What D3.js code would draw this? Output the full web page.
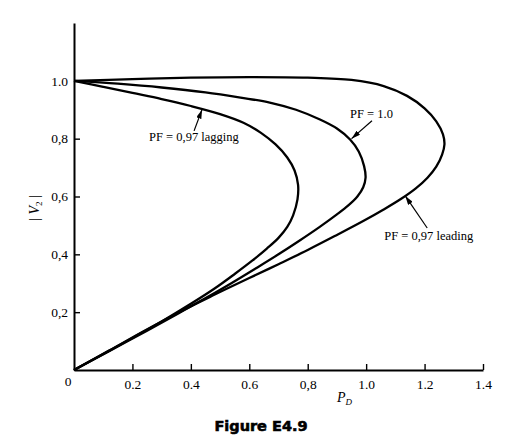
<!DOCTYPE html>
<html>
<head>
<meta charset="utf-8">
<script src="https://cdn.jsdelivr.net/npm/d3@7"></script>
<style>
  body { margin: 0; background: #fff; }
  svg { display: block; }
</style>
</head>
<body>
<script>
// Nose curves |V2| versus P_D
const laggingP = [0, 0.1, 0.2, 0.3, 0.4, 0.5, 0.58, 0.64, 0.69, 0.73, 0.755, 0.767, 0.765, 0.75, 0.73, 0.70, 0.66, 0.61, 0.55, 0.48, 0.4, 0.3, 0.2, 0.1, 0];
const laggingV = [1.0, 0.979, 0.958, 0.937, 0.913, 0.885, 0.855, 0.82, 0.78, 0.735, 0.69, 0.64, 0.59, 0.535, 0.495, 0.457, 0.42, 0.378, 0.332, 0.281, 0.229, 0.168, 0.111, 0.055, 0];

const unityP = [0, 0.15, 0.3, 0.45, 0.57, 0.67, 0.76, 0.84, 0.9, 0.945, 0.975, 0.993, 0.998, 0.99, 0.97, 0.94, 0.9, 0.84, 0.77, 0.70, 0.62, 0.54, 0.46, 0.36, 0.25, 0.12, 0];
const unityV = [1.0, 0.99, 0.977, 0.96, 0.942, 0.925, 0.9, 0.867, 0.835, 0.797, 0.755, 0.705, 0.665, 0.632, 0.60, 0.57, 0.538, 0.494, 0.446, 0.40, 0.35, 0.301, 0.254, 0.197, 0.136, 0.065, 0];

const leadingP = [0, 0.2, 0.4, 0.6, 0.8, 0.95, 1.06, 1.14, 1.2, 1.24, 1.263, 1.268, 1.26, 1.24, 1.21, 1.17, 1.12, 1.06, 0.99, 0.9, 0.8, 0.7, 0.6, 0.48, 0.36, 0.24, 0.12, 0];
const leadingV = [1.0, 1.006, 1.011, 1.013, 1.011, 1.003, 0.982, 0.948, 0.905, 0.86, 0.815, 0.78, 0.745, 0.703, 0.665, 0.628, 0.592, 0.555, 0.515, 0.467, 0.415, 0.366, 0.318, 0.26, 0.2, 0.135, 0.067, 0];

const xTicks = [0.2, 0.4, 0.6, 0.8, 1.0, 1.2, 1.4];
const xTickLabels = ["0.2", "0.4", "0.6", "0,8", "1.0", "1.2", "1.4"];
const yTicks = [0.2, 0.4, 0.6, 0.8, 1.0];
const yTickLabels = ["0,2", "0,4", "0,6", "0,8", "1.0"];

const curveLabels = ["PF = 0,97 lagging", "PF = 1.0", "PF = 0,97 leading"];
// text anchor and arrow (tail -> tip) in data units
const labelAt = [[0.257, 0.792], [0.945, 0.872], [1.062, 0.45]];
const arrowFrom = [[0.411, 0.827], [1.02, 0.862], [1.209, 0.491]];
const arrowTo = [[0.438, 0.90], [0.95, 0.80], [1.134, 0.602]];

const W = 520, H = 442;
const svg = d3.select("body").append("svg").attr("width", W).attr("height", H);

const x = d3.scaleLinear().domain([0, 1.4]).range([74, 483]);
const y = d3.scaleLinear().domain([0, 1.2]).range([370, 23]);

const serif = "'Liberation Serif', 'Times New Roman', serif";

// axes
const xAxis = svg.append("g").attr("transform", `translate(0,${y(0)})`)
    .call(d3.axisBottom(x).tickValues(xTicks).tickSizeInner(-6).tickSizeOuter(0)
        .tickFormat((d, i) => xTickLabels[i]));
const yAxis = svg.append("g").attr("transform", `translate(${x(0)},0)`)
    .call(d3.axisLeft(y).tickValues(yTicks).tickSizeInner(-6).tickSizeOuter(0)
        .tickFormat((d, i) => yTickLabels[i]));

[xAxis, yAxis].forEach(g => {
    g.select(".domain").attr("stroke", "#000").attr("stroke-width", 2);
    g.selectAll(".tick line").attr("stroke", "#000").attr("stroke-width", 1.4);
    g.selectAll(".tick text").attr("fill", "#000")
        .style("font-family", serif).style("font-size", "13.5px");
});
xAxis.selectAll(".tick text").attr("dy", "0.71em").attr("y", 9);
yAxis.selectAll(".tick text").attr("x", -6);

svg.append("text").attr("x", x(0) - 6).attr("y", y(0) + 16)
    .attr("text-anchor", "middle")
    .style("font-family", serif).style("font-size", "13.5px")
    .text("0");

// curves
const line = d3.line().x(d => x(d[0])).y(d => y(d[1])).curve(d3.curveCatmullRom.alpha(0.5));
const series = [
    d3.zip(laggingP, laggingV),
    d3.zip(unityP, unityV),
    d3.zip(leadingP, leadingV)
];
svg.append("g").selectAll("path").data(series).join("path")
    .attr("d", line)
    .attr("fill", "none")
    .attr("stroke", "#000")
    .attr("stroke-width", 2.3)
    .attr("stroke-linejoin", "round");

// arrows + labels
svg.append("defs").append("marker")
    .attr("id", "head").attr("viewBox", "0 0 10 6")
    .attr("refX", 10).attr("refY", 3)
    .attr("markerWidth", 9).attr("markerHeight", 5.4)
    .attr("markerUnits", "userSpaceOnUse").attr("orient", "auto")
    .append("path").attr("d", "M0,0L10,3L0,6Z").attr("fill", "#000");

svg.append("g").selectAll("line").data(arrowFrom).join("line")
    .attr("x1", d => x(d[0])).attr("y1", d => y(d[1]))
    .attr("x2", (d, i) => x(arrowTo[i][0])).attr("y2", (d, i) => y(arrowTo[i][1]))
    .attr("stroke", "#000").attr("stroke-width", 1.2)
    .attr("marker-end", "url(#head)");

svg.append("g").selectAll("text").data(curveLabels).join("text")
    .attr("x", (d, i) => x(labelAt[i][0])).attr("y", (d, i) => y(labelAt[i][1]))
    .style("font-family", serif).style("font-size", "12.5px")
    .text(d => d);

// axis titles
svg.append("text")
    .attr("transform", `translate(39,${y(0.56)}) rotate(-90)`)
    .attr("text-anchor", "middle")
    .attr("fill", "#000")
    .style("font-family", serif).style("font-size", "14px")
    .html("| <tspan font-style='italic'>V</tspan><tspan font-size='9px' dy='3'>2</tspan><tspan dy='-3'> |</tspan>");

svg.append("text")
    .attr("x", 337).attr("y", 402)
    .style("font-family", serif).style("font-size", "14px").style("font-style", "italic")
    .html("P<tspan font-size='9px' dy='3'>D</tspan>");

svg.append("text")
    .attr("x", 261).attr("y", 431)
    .attr("text-anchor", "middle")
    .attr("fill", "#000").attr("stroke", "#000").attr("stroke-width", 0.6)
    .style("font-family", "'DejaVu Sans', sans-serif").style("font-size", "14.5px").style("font-weight", "bold")
    .text("Figure E4.9");
</script>
</body>
</html>
